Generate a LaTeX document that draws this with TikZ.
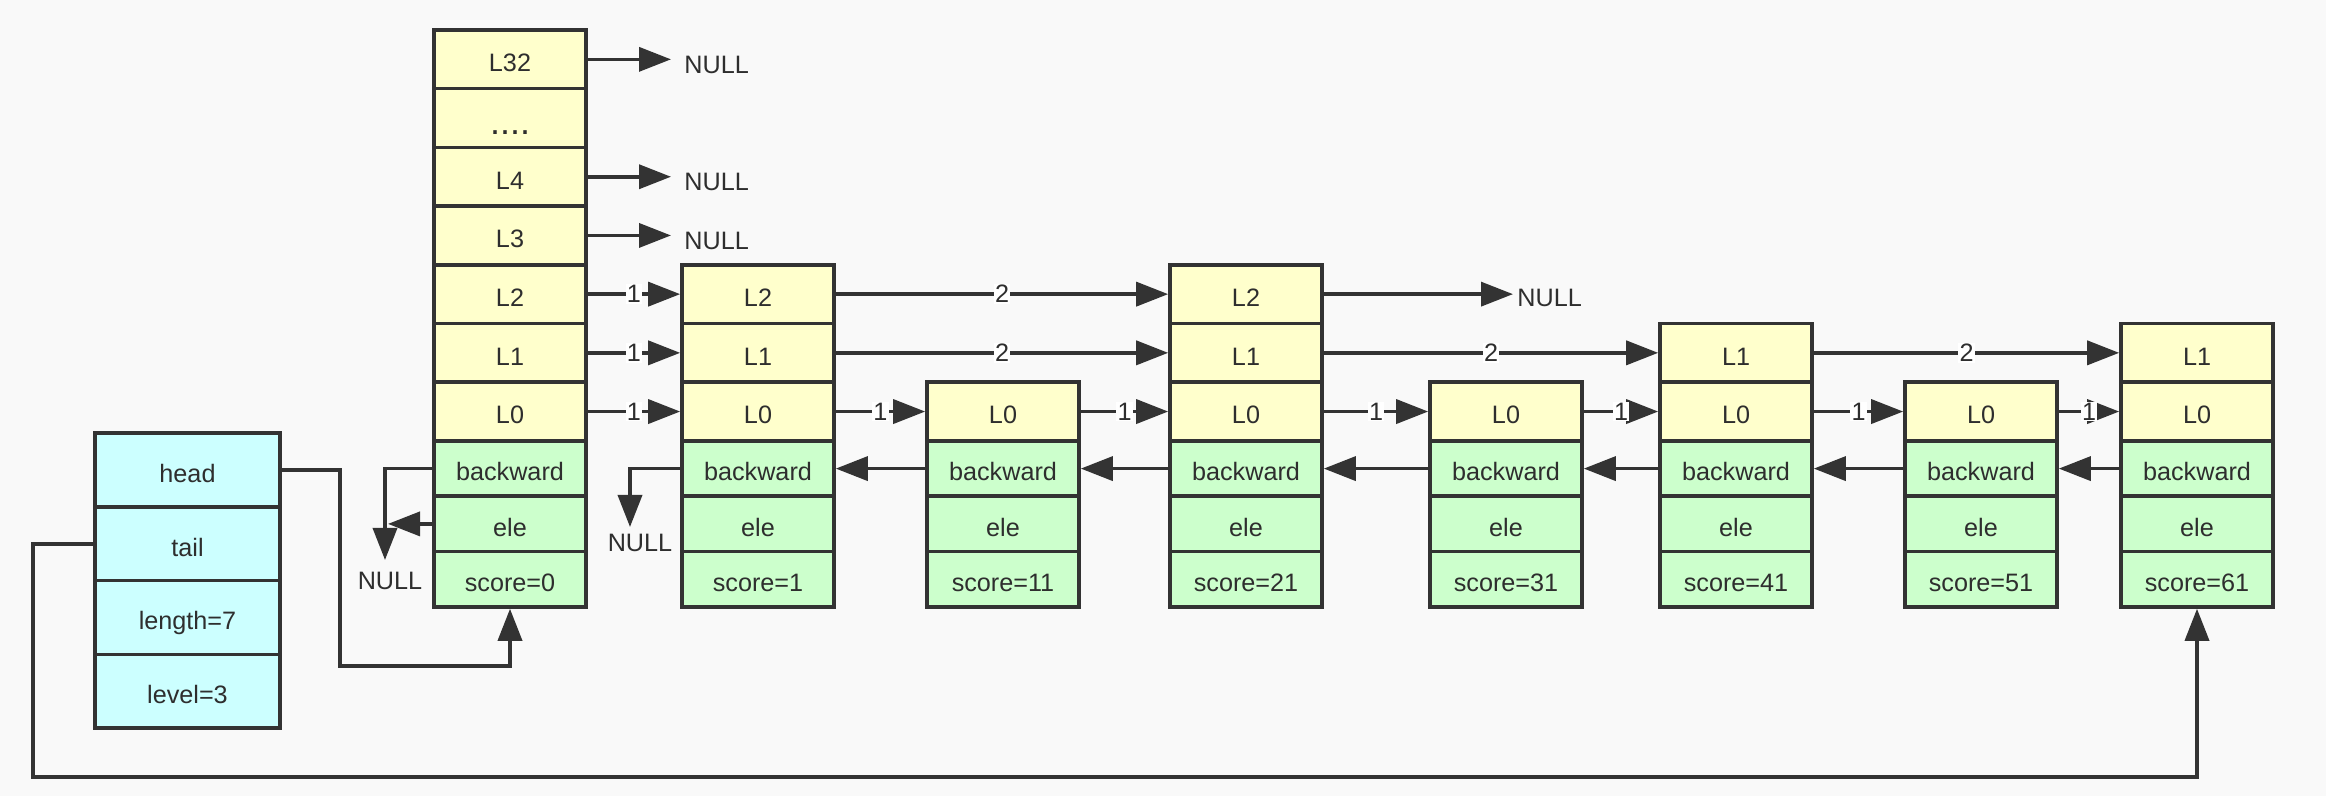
\documentclass[tikz,border=0pt]{standalone}
\usepackage{fontspec}
\setmainfont{Liberation Sans}
\usetikzlibrary{arrows.meta}
\definecolor{bg}{HTML}{F9F9F9}
\definecolor{ylw}{HTML}{FFFFCC}
\definecolor{grn}{HTML}{CCFFCC}
\definecolor{cyn}{HTML}{CCFFFF}
\definecolor{ink}{HTML}{333333}
\definecolor{tx}{HTML}{2E2E2E}
\tikzset{
  txtfont/.style={font=\fontsize{12.6}{14}\selectfont, text=tx},
  cell/.style={draw=ink, line width=1.8pt, minimum width=76pt, inner sep=0pt, txtfont, text height=12.4pt, text depth=0pt},
  ycell/.style={cell, fill=ylw, minimum height=29.35pt},
  gcell/.style={cell, fill=grn, minimum height=27.68pt},
  ccell/.style={cell, fill=cyn, minimum width=92.5pt, minimum height=36.87pt},
  link/.style={draw=ink, line width=1.8pt, -{Triangle[length=16pt,width=12pt]}},
  num/.style={fill=white, inner sep=0.6pt, txtfont},
  plain/.style={inner sep=0pt, txtfont}
}
\newcommand\mycolumn[4]{%
  \foreach \lv/\yy in {#3} {\node[ycell] (#1-\lv) at (#2,\yy) {\lv};}
  \node[gcell] (#1-bw) at (#2,468.6) {backward};
  \node[gcell] (#1-ele) at (#2,523.9) {ele};
  \node[gcell] (#1-sc) at (#2,579.3) {score=#4};
}
\begin{document}
\begin{tikzpicture}[x=0.5pt,y=-0.5pt]
\path[fill=bg] (0,0) rectangle (2326,796);
\useasboundingbox (0,0) rectangle (2326,796);

% header column
\node[ycell] (h-dots) at (510,118.05) {};
\node[plain, font=\fontsize{18}{20}\selectfont] (h-dotst) at (510,133) {....};
\mycolumn{h}{510}{L32/59.35,L4/176.75,L3/235.45,L2/294.15,L1/352.85,L0/411.55}{0}
\mycolumn{n1}{758}{L2/294.15,L1/352.85,L0/411.55}{1}
\mycolumn{n2}{1003}{L0/411.55}{11}
\mycolumn{n3}{1246}{L2/294.15,L1/352.85,L0/411.55}{21}
\mycolumn{n4}{1506}{L0/411.55}{31}
\mycolumn{n5}{1736}{L1/352.85,L0/411.55}{41}
\mycolumn{n6}{1981}{L0/411.55}{51}
\mycolumn{n7}{2197}{L1/352.85,L0/411.55}{61}

% list struct
\node[ccell] (s-head) at (187.5,470) {head};
\node[ccell] (s-tail) at (187.5,543.75) {tail};
\node[ccell] (s-len) at (187.5,617.5) {length=7};
\node[ccell] (s-lvl) at (187.5,691.25) {level=3};

% NULL targets
\coordinate (z32) at (671,59.35);
\coordinate (z4) at (671,176.75);
\coordinate (z3) at (671,235.45);
\coordinate (z2) at (1513,294.15);
\node[plain, anchor=west] (t32) at (684,64.5) {NULL};
\node[plain, anchor=west] (t4) at (684,182) {NULL};
\node[plain, anchor=west] (t3) at (684,241) {NULL};
\node[plain, anchor=west] (t2) at (1517,297.5) {NULL};

\draw[link] (h-L32.east) -- (z32);
\draw[link] (h-L4.east) -- (z4);
\draw[link] (h-L3.east) -- (z3);

% forward links
\draw[link] (h-L2.east) -- node[num] (a1) {1} (n1-L2.west);
\draw[link] (h-L1.east) -- node[num] (a2) {1} (n1-L1.west);
\draw[link] (h-L0.east) -- node[num] (a3) {1} (n1-L0.west);
\draw[link] (n1-L2.east) -- node[num] (a4) {2} (n3-L2.west);
\draw[link] (n3-L2.east) -- (z2);
\draw[link] (n1-L1.east) -- node[num] (a5) {2} (n3-L1.west);
\draw[link] (n3-L1.east) -- node[num] (a6) {2} (n5-L1.west);
\draw[link] (n5-L1.east) -- node[num] (a7) {2} (n7-L1.west);
\draw[link] (n1-L0.east) -- node[num] (b1) {1} (n2-L0.west);
\draw[link] (n2-L0.east) -- node[num] (b2) {1} (n3-L0.west);
\draw[link] (n3-L0.east) -- node[num] (b3) {1} (n4-L0.west);
\draw[link] (n4-L0.east) -- node[num] (b4) {1} (n5-L0.west);
\draw[link] (n5-L0.east) -- node[num] (b5) {1} (n6-L0.west);
\draw[link] (n6-L0.east) -- node[num] (b6) {1} (n7-L0.west);

% backward links
\draw[link] (n2-bw.west) -- (n1-bw.east);
\draw[link] (n3-bw.west) -- (n2-bw.east);
\draw[link] (n4-bw.west) -- (n3-bw.east);
\draw[link] (n5-bw.west) -- (n4-bw.east);
\draw[link] (n6-bw.west) -- (n5-bw.east);
\draw[link] (n7-bw.west) -- (n6-bw.east);

% header backward / ele to NULL
\coordinate (hn) at (385,560);
\coordinate (he) at (388,523.9);
\draw[link] (h-bw.west) -| (hn);
\draw[link] (h-ele.west) -- (he);
\node[plain] (hnt) at (390,581) {NULL};

% node1 backward to NULL
\coordinate (n1n) at (630,527);
\draw[link] (n1-bw.west) -| (n1n);
\node[plain] (n1t) at (640,543) {NULL};

% head and tail pointers
\coordinate (hk) at (340,666);
\coordinate (hb) at (510,666);
\draw[link] (s-head.east) -| (hk) -- (hb) -- (h-sc.south);
\coordinate (tk) at (33,777);
\coordinate (tb) at (2197,777);
\draw[link] (s-tail.west) -| (tk) -- (tb) -- (n7-sc.south);
\end{tikzpicture}
\end{document}
